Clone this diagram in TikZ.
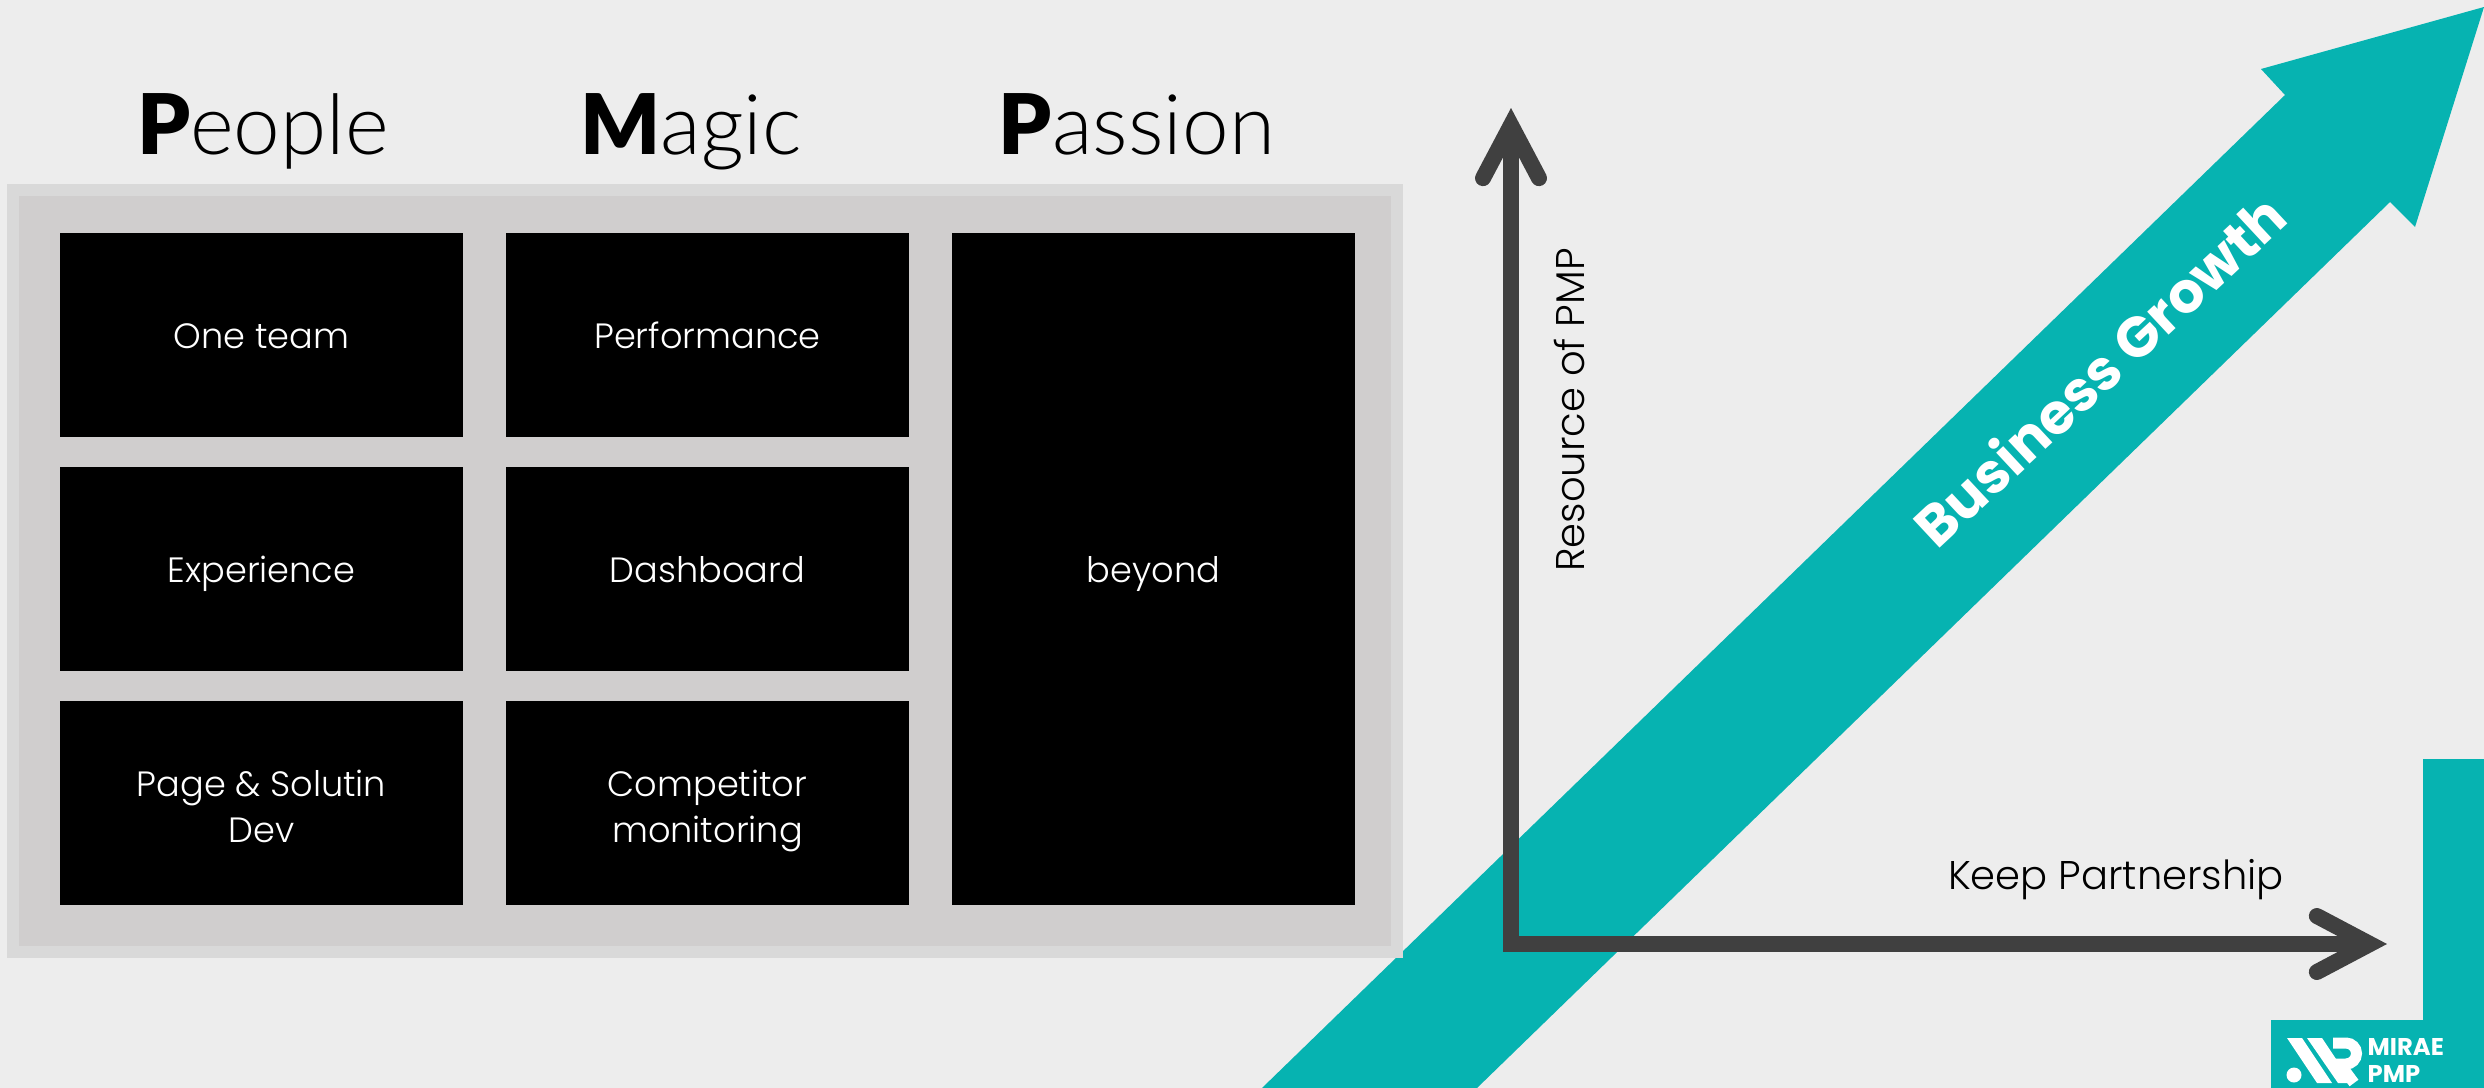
\documentclass[tikz,border=0pt]{standalone}
\usepackage{fontspec}
\setmainfont{Poppins}[UprightFont=* Light,BoldFont=* Bold]
\newfontfamily\headfont{Lato}[UprightFont=* Light,BoldFont=* Black]
\usetikzlibrary{positioning,arrows.meta}
\definecolor{pagegray}{HTML}{EDEDED}
\definecolor{framegray}{HTML}{D9D9D9}
\definecolor{panelgray}{HTML}{D0CECE}
\definecolor{axisgray}{HTML}{404040}
\definecolor{growthteal}{HTML}{06B3B1}
\begin{document}
\begin{tikzpicture}[node distance=.30cm and .43cm,
    cell/.style={rectangle, fill=black, text=white, minimum width=4.03cm, minimum height=2.04cm, inner sep=0pt, outer sep=0pt, align=center, font=\fontsize{10}{13.2}\selectfont, execute at begin node=\rule{0pt}{11.5pt}, execute at end node=\strut},
    twoline/.style={text height=26.4pt},
    head/.style={anchor=base, inner sep=0pt, font=\headfont\fontsize{23.8}{28}\selectfont},
    label/.style={inner sep=0pt, font=\fontsize{11.4}{14}\selectfont},
    logotext/.style={inner sep=0pt, anchor=base west, text=white, font=\bfseries\fontsize{6.9}{8}\selectfont},
    barb/.tip={Straight Barb[length=.53cm, width=.56cm, line cap=round, line join=miter]},
    axis/.style={draw=axisgray, line width=.16cm, {barb}-{barb}}]
    \useasboundingbox (0,0) rectangle (24.84,-10.88);
    \fill[pagegray] (0,0) rectangle (24.84,-10.88);

    % growth arrow and side block
    \fill[growthteal] (12.62,-10.88) -- (22.85,-.95) -- (22.61,-.69) -- (24.84,-.07) -- (24.15,-2.27) -- (23.90,-2.02) -- (14.77,-10.88) -- cycle;
    \fill[growthteal] (22.71,-10.88) |- (24.23,-10.20) |- (24.84,-7.59) |- cycle;

    % panel
    \fill[framegray] (.07,-1.84) rectangle (14.03,-9.58);
    \fill[panelgray] (.19,-1.96) rectangle (13.91,-9.46);

    \node[cell](team) at (2.615,-3.35){One team};
    \node[cell](exp)[below=of team]{Experience};
    \node[cell, twoline](page)[below=of exp]{Page \& Solutin\\Dev};
    \node[cell](perf)[right=of team]{Performance};
    \node[cell](dash)[below=of perf]{Dashboard};
    \node[cell, twoline](comp)[below=of dash]{Competitor\\monitoring};
    \node[cell, minimum height=6.72cm](bey)[right=of perf.north east, anchor=north west]{beyond};

    \node[head](people) at (2.63,-1.54){\textbf{P}eople};
    \node[head](magic) at (6.91,-1.54){\textbf{M}agic};
    \node[head](passion) at (11.37,-1.54){\textbf{P}assion};

    % axes
    \coordinate (top) at (15.11,-1.08);
    \coordinate (right) at (23.87,-9.44);
    \draw[axis] (top) |- (right);
    \node[label, rotate=90](res) at (15.70,-4.10){Resource of PMP};
    \node[label](keep) at (21.16,-8.80){Keep Partnership};
    \node[inner sep=0pt, rotate=43, text=white, font=\bfseries\fontsize{16}{20}\selectfont](grow) at (20.99,-3.70){Business Growth};

    % logo
    \fill[white] (22.87,-10.38) -- (23.02,-10.38) -- (23.32,-10.83) -- (23.17,-10.83) -- cycle;
    \fill[white] (23.07,-10.38) -- (23.22,-10.38) -- (23.52,-10.83) -- (23.38,-10.83) -- cycle;
    \fill[white] (22.94,-10.75) circle (.075);
    \draw[white, line width=.11cm] (23.33,-10.43) -- (23.46,-10.43) arc (90:-90:.105) -- (23.40,-10.64) -- (23.54,-10.83);
    \node[logotext](mirae) at (23.67,-10.55){MIRAE};
    \node[logotext](pmp) at (23.67,-10.82){PMP};
\end{tikzpicture}
\end{document}
